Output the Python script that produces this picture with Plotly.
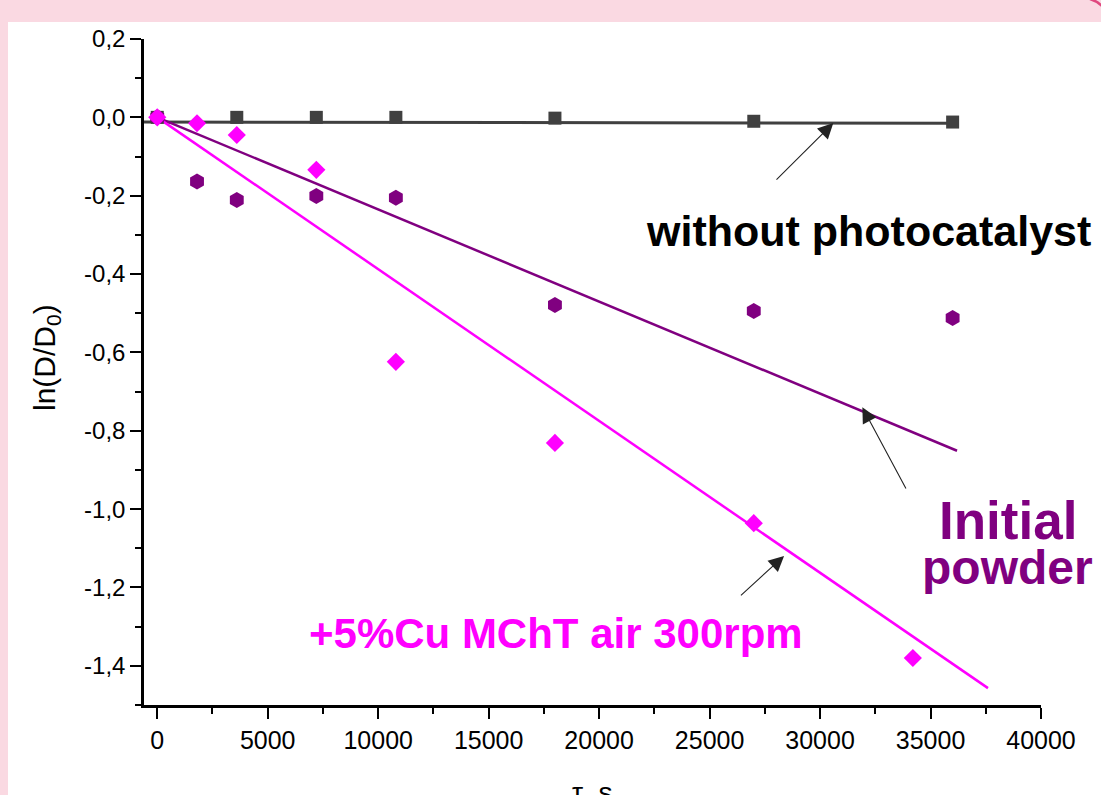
import plotly.graph_objects as go

# ---- data ----
time_s = [0, 3600, 7200, 10800, 18000, 27000, 36000]
no_cat = [0.0, 0.0, 0.0, 0.0, -0.002, -0.010, -0.012]

time_init = [0, 1800, 3600, 7200, 10800, 18000, 27000, 36000]
initial_powder = [0.0, -0.164, -0.211, -0.201, -0.205, -0.479, -0.494, -0.512]

time_cu = [0, 1800, 3600, 7200, 10800, 18000, 27000, 34200]
cu_powder = [0.0, -0.015, -0.045, -0.134, -0.624, -0.831, -1.036, -1.380]

# fitted lines (end points)
fit_nocat_x = [-600, 36200]
fit_nocat_y = [-0.012, -0.015]
fit_init_x = [0, 36200]
fit_init_y = [0.0, -0.851]
fit_cu_x = [0, 37600]
fit_cu_y = [0.0, -1.457]

x_ticks = [0, 5000, 10000, 15000, 20000, 25000, 30000, 35000, 40000]
x_tick_labels = ["0", "5000", "10000", "15000", "20000", "25000", "30000", "35000", "40000"]
y_ticks = [0.2, 0.0, -0.2, -0.4, -0.6, -0.8, -1.0, -1.2, -1.4]
y_tick_labels = ["0,2", "0,0", "-0,2", "-0,4", "-0,6", "-0,8", "-1,0", "-1,2", "-1,4"]

GRAY = "#404040"
PURPLE = "#800080"
MAGENTA = "#ff00ff"
PINK = "#fad9e2"
FONT = "Liberation Sans"

W, H = 1101, 795
L, R, T, B = 144, 60, 39, 90
PW, PH = W - L - R, H - T - B


def px(xp):
    return (xp - L) / PW


def py(yp):
    return (H - B - yp) / PH


fig = go.Figure()

# lines
fig.add_trace(go.Scatter(x=fit_nocat_x, y=fit_nocat_y, mode="lines",
                         line=dict(color=GRAY, width=3), showlegend=False, cliponaxis=False))
fig.add_trace(go.Scatter(x=fit_init_x, y=fit_init_y, mode="lines",
                         line=dict(color=PURPLE, width=2.5), showlegend=False))
fig.add_trace(go.Scatter(x=fit_cu_x, y=fit_cu_y, mode="lines",
                         line=dict(color=MAGENTA, width=2.5), showlegend=False))

# markers
fig.add_trace(go.Scatter(x=time_s, y=no_cat, mode="markers",
                         marker=dict(symbol="square", size=13, color=GRAY),
                         showlegend=False, cliponaxis=False))
fig.add_trace(go.Scatter(x=time_init, y=initial_powder, mode="markers",
                         marker=dict(symbol="hexagon", size=16, color=PURPLE),
                         showlegend=False, cliponaxis=False))
fig.add_trace(go.Scatter(x=time_cu, y=cu_powder, mode="markers",
                         marker=dict(symbol="diamond", size=14, color=MAGENTA),
                         showlegend=False, cliponaxis=False))

# white panel on pink background
fig.add_shape(type="rect", xref="paper", yref="paper",
              x0=px(8), x1=px(W + 30), y0=py(H + 30), y1=py(22),
              fillcolor="white", line=dict(width=0), layer="below")
fig.add_shape(type="path", xref="paper", yref="paper",
              path=f"M {px(1090)} {py(-1)} Q {px(1097)} {py(1)} {px(1102)} {py(6)}",
              line=dict(color="#e0487f", width=2.5), layer="above")

ann = []
# arrows
arrows = [
    (30600, -0.0146, 27960, -0.163),
    (31914, -0.740, 33923, -0.951),
    (28371, -1.1196, 26350, -1.2236),
]
for xt, yt, xa, ya in arrows:
    ann.append(dict(x=xt, y=yt, ax=xa, ay=ya, xref="x", yref="y", axref="x", ayref="y",
                    text="", showarrow=True, arrowhead=2, arrowsize=2.8, arrowwidth=1.1,
                    arrowcolor="#222222"))

ann.append(dict(x=px(868), y=py(231), xref="paper", yref="paper", showarrow=False,
                text="<b>without photocatalyst</b>", font=dict(family=FONT, size=43, color="black"),
                xanchor="center", yanchor="middle"))
ann.append(dict(x=px(1007), y=py(567), xref="paper", yref="paper", showarrow=False,
                text="<b>powder</b>", font=dict(family=FONT, size=48, color=PURPLE),
                xanchor="center", yanchor="middle"))
ann.append(dict(x=px(1008), y=py(520), xref="paper", yref="paper", showarrow=False,
                text="<b>Initial</b>", font=dict(family=FONT, size=53, color=PURPLE),
                xanchor="center", yanchor="middle"))
ann.append(dict(x=px(556), y=py(633), xref="paper", yref="paper", showarrow=False,
                text="<b>+5%Cu MChT air 300rpm</b>", font=dict(family=FONT, size=42, color=MAGENTA),
                xanchor="center", yanchor="middle"))
# axis titles
ann.append(dict(x=px(592), y=py(775), xref="paper", yref="paper", showarrow=False,
                text="τ, s", font=dict(family=FONT, size=28, color="black"),
                xanchor="center", yanchor="top"))
ann.append(dict(x=px(46), y=py(358), xref="paper", yref="paper", showarrow=False,
                text="ln(D/D<sub>0</sub>)", textangle=-90,
                font=dict(family=FONT, size=30, color="black"),
                xanchor="center", yanchor="middle"))

fig.update_layout(
    width=W, height=H,
    margin=dict(l=L, r=R, t=T, b=B, pad=0),
    paper_bgcolor=PINK, plot_bgcolor="white",
    annotations=ann,
    font=dict(family=FONT, color="black"),
)

fig.update_xaxes(range=[-600, 40000], tickmode="array", tickvals=x_ticks, ticktext=x_tick_labels,
                 ticks="outside", ticklen=11, tickwidth=1.5, tickcolor="black",
                 showline=True, linewidth=2.5, linecolor="black", showgrid=False, zeroline=False,
                 tickfont=dict(family=FONT, size=25, color="black"),
                 minor=dict(tick0=0, dtick=2500, ticks="outside", ticklen=6, tickwidth=1.5,
                            tickcolor="black", showgrid=False))
fig.update_yaxes(range=[-1.5, 0.2], tickmode="array", tickvals=y_ticks, ticktext=y_tick_labels,
                 ticks="outside", ticklen=11, tickwidth=1.5, tickcolor="black",
                 showline=True, linewidth=2.5, linecolor="black", showgrid=False, zeroline=False,
                 tickfont=dict(family=FONT, size=24, color="black"),
                 minor=dict(tick0=0, dtick=0.1, ticks="outside", ticklen=6, tickwidth=1.5,
                            tickcolor="black", showgrid=False))

fig.write_html("out.html",
               config={"displayModeBar": False},
               post_script="document.body.style.margin='0';document.body.style.padding='0';"
                           "document.body.style.overflow='hidden';")
